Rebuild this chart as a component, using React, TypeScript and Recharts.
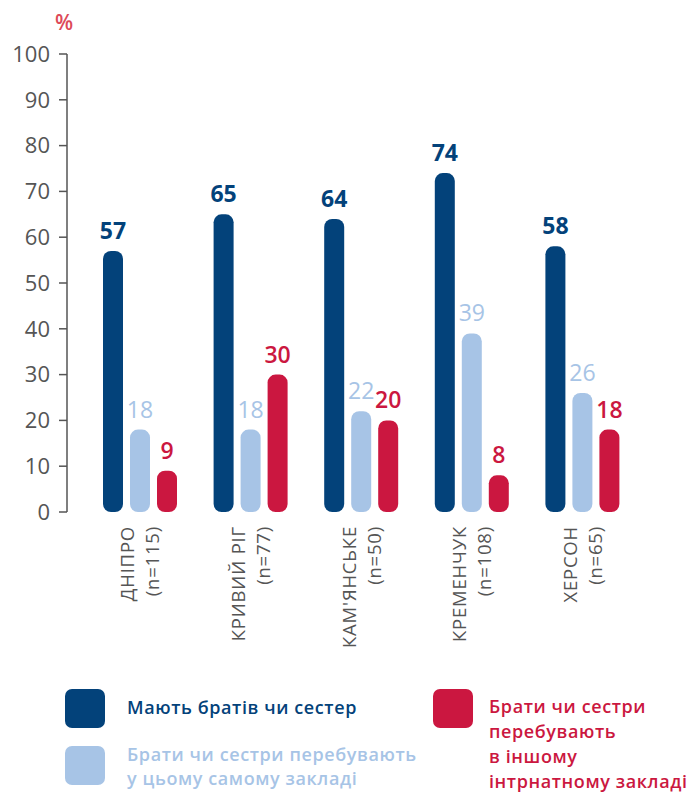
import { BarChart, Bar, XAxis, YAxis, LabelList } from 'recharts'

const cities = ['ДНІПРО', 'КРИВИЙ РІГ', "КАМ'ЯНСЬКЕ", 'КРЕМЕНЧУК', 'ХЕРСОН']
const sampleSizes = ['(n=115)', '(n=77)', '(n=50)', '(n=108)', '(n=65)']
const haveSiblings = [57, 65, 64, 74, 58]
const sameFacility = [18, 18, 22, 39, 26]
const otherFacility = [9, 30, 20, 8, 18]
const yTicks = [0, 10, 20, 30, 40, 50, 60, 70, 80, 90, 100]

const NAVY = '#03427a'
const LIGHT = '#a7c4e6'
const RED = '#cb1740'
const GREY = '#555555'
const FONT = '"Open Sans", Roboto, sans-serif'

const data = cities.map((city, i) => ({
  city,
  n: sampleSizes[i],
  have: haveSiblings[i],
  same: sameFacility[i],
  other: otherFacility[i],
}))

function CityTick({ x, y, payload, index }: any) {
  return (
    <g transform={`translate(${x},${y + 20})`}>
      <text transform="rotate(-90)" textAnchor="end" fill={GREY} fontSize={18.5} letterSpacing={0.8} fontFamily={FONT}>
        <tspan x={6} y={-6}>{payload.value}</tspan>
        <tspan x={6} y={19}>{sampleSizes[index]}</tspan>
      </text>
    </g>
  )
}

const square = (color: string, top: number, left: number) => (
  <div
    style={{ position: 'absolute', left, top, width: 40, height: 39, borderRadius: 7, background: color }}
  />
)

const legendText = { position: 'absolute' as const, fontSize: 18, letterSpacing: 0.6, fontWeight: 600, whiteSpace: 'nowrap' as const }

export default function App() {
  return (
    <div style={{ position: 'absolute', left: 0, top: 0, width: 696, height: 796, background: '#fff', fontFamily: FONT }}>
      <div style={{ position: 'absolute', left: 55, top: 8, fontSize: 21, color: '#dd4a58', fontWeight: 600 }}>%</div>
      <BarChart
        width={696}
        height={650}
        data={data}
        margin={{ top: 54, right: 58, bottom: 0, left: 0 }}
        barSize={20}
        barGap={7}
      >
        <XAxis
          dataKey="city"
          axisLine={false}
          tickLine={false}
          tickSize={0}
          tickMargin={0}
          height={138}
          interval={0}
          padding={{ left: 18, right: 0 }}
          tick={<CityTick />}
        />
        <YAxis
          domain={[0, 100]}
          ticks={yTicks}
          width={67}
          axisLine={{ stroke: GREY, strokeWidth: 1.5 }}
          tickLine={{ stroke: GREY, strokeWidth: 1.5 }}
          tickSize={8}
          tickMargin={9}
          tick={{ fontSize: 22, fill: GREY, fontFamily: FONT, fontWeight: 500 }}
        />
        <Bar dataKey="have" fill={NAVY} radius={[8, 8, 8, 8]} isAnimationActive={false}>
          <LabelList dataKey="have" position="top" offset={12} fill={NAVY} fontSize={23} fontWeight={700} fontFamily={FONT} />
        </Bar>
        <Bar dataKey="same" fill={LIGHT} radius={[8, 8, 8, 8]} isAnimationActive={false}>
          <LabelList dataKey="same" position="top" offset={12} fill={LIGHT} fontSize={23} fontWeight={500} fontFamily={FONT} />
        </Bar>
        <Bar dataKey="other" fill={RED} radius={[8, 8, 8, 8]} isAnimationActive={false}>
          <LabelList dataKey="other" position="top" offset={12} fill={RED} fontSize={23} fontWeight={600} fontFamily={FONT} />
        </Bar>
      </BarChart>

      {square(NAVY, 689, 65)}
      {square(LIGHT, 746, 65)}
      {square(RED, 689, 433)}
      <div style={{ ...legendText, left: 127, top: 695, lineHeight: '24px', color: NAVY }}>
        Мають братів чи сестер
      </div>
      <div style={{ ...legendText, left: 127, top: 742, lineHeight: '24px', color: LIGHT }}>
        Брати чи сестри перебувають
        <br />у цьому самому закладі
      </div>
      <div style={{ ...legendText, left: 489, top: 694, lineHeight: '25px', color: RED }}>
        Брати чи сестри
        <br />перебувають
        <br />в іншому
        <br />інтрнатному закладі
      </div>
    </div>
  )
}
